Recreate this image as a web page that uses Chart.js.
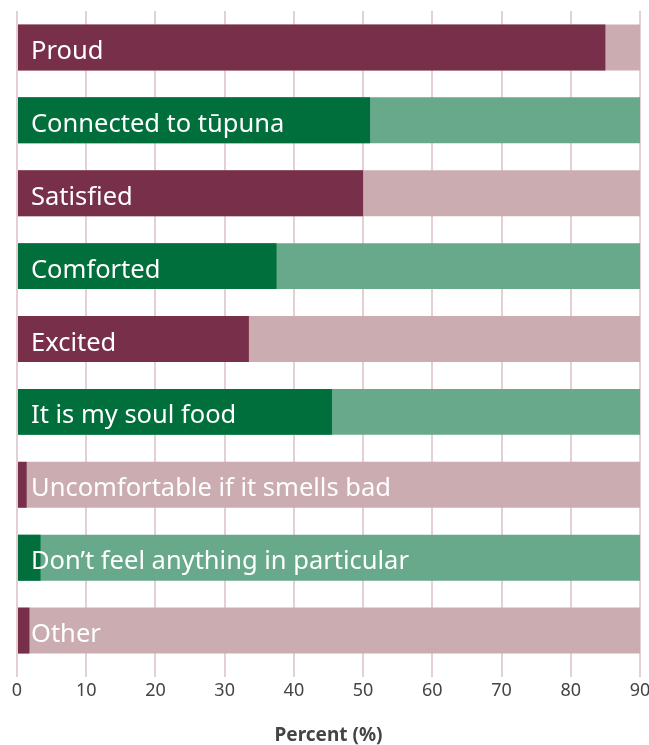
<!DOCTYPE html>
<html>
<head>
<meta charset="utf-8">
<script src="https://cdn.jsdelivr.net/npm/chart.js@4"></script>
<style>
  html, body { margin: 0; padding: 0; background: #fff; }
  #wrap { width: 649px; height: 745px; position: relative; }
</style>
</head>
<body>
<div id="wrap"><canvas id="myChart"></canvas></div>
<script>
const feelings = [
    'Proud',
    'Connected to tūpuna',
    'Satisfied',
    'Comforted',
    'Excited',
    'It is my soul food',
    'Uncomfortable if it smells bad',
    'Don’t feel anything in particular',
    'Other'
]
const percent = [85, 51, 50, 37.5, 33.5, 45.5, 1.4, 3.4, 1.8]
const track = [90, 90, 90, 90, 90, 90, 90, 90, 90]
const xTicks = [0, 10, 20, 30, 40, 50, 60, 70, 80, 90]

const darkColours = feelings.map((f, i) => i % 2 === 0 ? '#78304a' : '#006f3c')
const lightColours = feelings.map((f, i) => i % 2 === 0 ? '#cbadb1' : '#67a98a')

// category names written inside each bar
const barLabels = {
    id: 'barLabels',
    afterDatasetsDraw(chart) {
        const ctx = chart.ctx
        const meta = chart.getDatasetMeta(0)
        ctx.save()
        ctx.font = '25.5px "Noto Sans"'
        ctx.fillStyle = '#ffffff'
        ctx.textBaseline = 'alphabetic'
        meta.data.forEach((bar, i) => {
            ctx.fillText(feelings[i], chart.chartArea.left + 14, bar.y + 11.5)
        })
        ctx.restore()
    }
}

const data = {
    labels: feelings,
    datasets: [{
        data: percent,
        backgroundColor: darkColours,
        order: 0
    }, {
        data: track,
        backgroundColor: lightColours,
        order: 1
    }]
}

const config = {
    type: 'bar',
    data: data,
    options: {
        indexAxis: 'y',
        responsive: true,
        maintainAspectRatio: false,
        animation: false,
        grouped: false,
        barPercentage: 0.63,
        categoryPercentage: 1,
        layout: { padding: { left: 17, right: 9, top: 11, bottom: 0 } },
        plugins: {
            legend: { display: false },
            tooltip: { enabled: false }
        },
        scales: {
            y: { display: false },
            x: {
                min: 0,
                max: 90,
                afterBuildTicks(axis) {
                    axis.ticks = xTicks.map(v => ({ value: v }))
                },
                afterFit(axis) {
                    // let the end labels hang into the page margin
                    axis.paddingLeft = 0
                    axis.paddingRight = 0
                },
                border: { display: false },
                grid: {
                    color: '#e4d0d4',
                    lineWidth: 2,
                    tickLength: 10
                },
                ticks: {
                    color: '#444444',
                    font: { family: 'Noto Sans', size: 18, lineHeight: 1 },
                    padding: 5
                },
                title: {
                    display: true,
                    text: 'Percent (%)',
                    color: '#444444',
                    font: { family: 'Noto Sans', size: 19, weight: 'bold', lineHeight: 1 },
                    padding: { top: 21, bottom: 0 }
                }
            }
        }
    },
    plugins: [barLabels]
}

const ctx = document.getElementById('myChart').getContext('2d')
new Chart(ctx, config)
</script>
</body>
</html>
